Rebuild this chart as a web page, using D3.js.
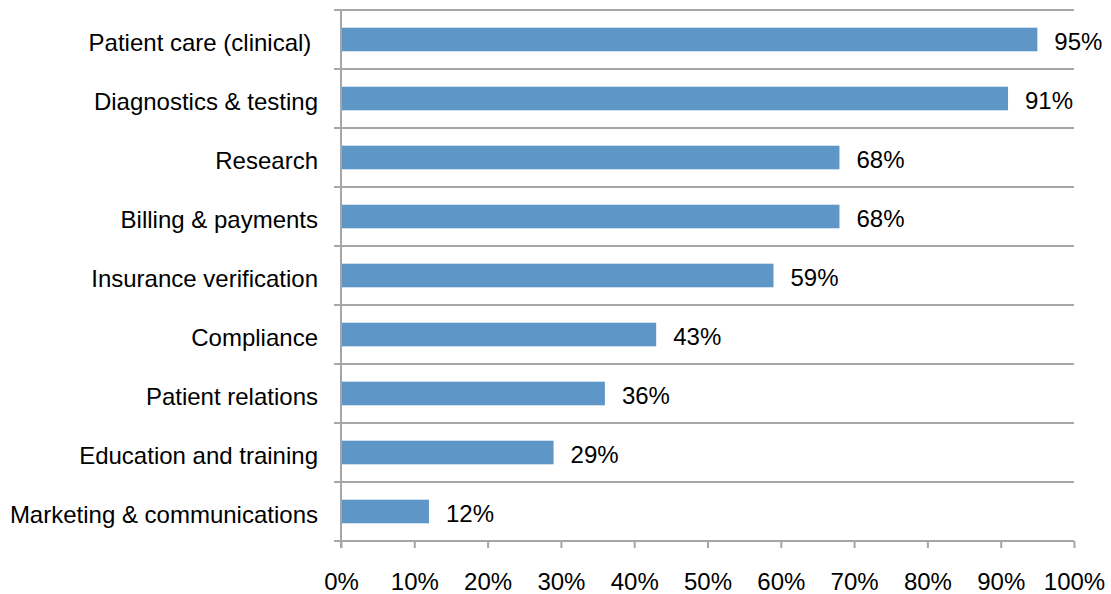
<!DOCTYPE html>
<html>
<head>
<meta charset="utf-8">
<script src="https://cdn.jsdelivr.net/npm/d3@7/dist/d3.min.js"></script>
<style>
  html, body { margin: 0; padding: 0; background: #fff; }
  svg { display: block; font-family: "Liberation Sans", Arial, sans-serif; }
  text { white-space: pre; }
</style>
</head>
<body>
<svg id="chart" width="1111" height="594"></svg>
<script>
// Share of respondents by area of use
const categories = [
  "Patient care (clinical) ",
  "Diagnostics & testing",
  "Research",
  "Billing & payments",
  "Insurance verification",
  "Compliance",
  "Patient relations",
  "Education and training",
  "Marketing & communications"
];
const values = [95, 91, 68, 68, 59, 43, 36, 29, 12];
const tickValues = [0, 10, 20, 30, 40, 50, 60, 70, 80, 90, 100];

(function draw() {
  const svg = d3.select("#chart");
  const plotLeft = 341, plotRight = 1074, plotTop = 10, plotBottom = 541;
  const gridColor = "#a6a6a6";
  const barColor = "#5f96c8";
  const fontSize = 24;

  const x = d3.scaleLinear().domain([0, 100]).range([plotLeft, plotRight]);
  const y = d3.scaleBand().domain(categories).range([plotTop, plotBottom]).paddingInner(0.6).paddingOuter(0.3);

  // band boundaries: horizontal gridlines
  const bounds = d3.range(categories.length + 1)
    .map(i => plotTop + i * (plotBottom - plotTop) / categories.length);

  svg.append("g").selectAll("line").data(bounds).join("line")
    .attr("x1", plotLeft - 7).attr("x2", x(100))
    .attr("y1", d => d).attr("y2", d => d)
    .attr("stroke", gridColor).attr("stroke-width", 2);

  // vertical axis line
  svg.append("line")
    .attr("x1", plotLeft).attr("x2", plotLeft).attr("y1", plotTop).attr("y2", plotBottom + 7)
    .attr("stroke", gridColor).attr("stroke-width", 2);

  // x-axis ticks and labels
  const xAxis = d3.axisBottom(x).tickValues(tickValues).tickSize(7)
    .tickFormat(d => d + "%").tickPadding(25);
  const gx = svg.append("g").attr("transform", `translate(0,${plotBottom})`).call(xAxis);
  gx.select(".domain").remove();
  gx.selectAll(".tick line").attr("stroke", gridColor).attr("stroke-width", 2);
  gx.selectAll(".tick text").attr("font-size", fontSize).attr("fill", "#000")
    .attr("font-family", "Liberation Sans, Arial, sans-serif");

  // category labels
  svg.append("g").selectAll("text").data(categories).join("text")
    .attr("x", 318)
    .attr("y", d => y(d) + y.bandwidth() / 2)
    .attr("dy", "0.47em")
    .attr("text-anchor", "end")
    .attr("font-size", fontSize)
    .attr("fill", "#000")
    .text(d => d);

  // bars
  svg.append("g").selectAll("rect").data(values).join("rect")
    .attr("x", x(0) + 1)
    .attr("y", (d, i) => y(categories[i]))
    .attr("width", d => x(d) - x(0) - 1)
    .attr("height", y.bandwidth())
    .attr("fill", barColor);

  // value labels
  svg.append("g").selectAll("text").data(values).join("text")
    .attr("x", d => x(d) + 17)
    .attr("y", (d, i) => y(categories[i]) + y.bandwidth() / 2)
    .attr("dy", "0.45em")
    .attr("font-size", fontSize)
    .attr("fill", "#000")
    .text(d => d + "%");
})();
</script>
</body>
</html>
